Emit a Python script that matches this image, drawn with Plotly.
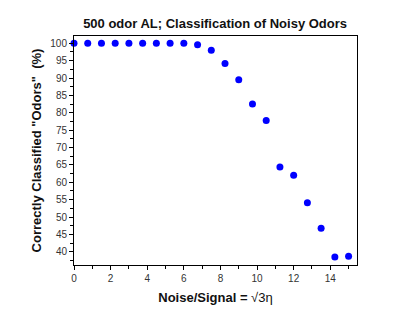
import plotly.graph_objects as go

noise = [0, 0.75, 1.5, 2.25, 3.0, 3.75, 4.5, 5.25, 6.0, 6.75, 7.5, 8.25, 9.0,
         9.75, 10.5, 11.25, 12.0, 12.75, 13.5, 14.25, 15.0]
correct = [100, 100, 100, 100, 100, 100, 100, 100, 100, 99.6, 98.0, 94.2, 89.5,
           82.5, 77.8, 64.4, 62.0, 54.1, 46.8, 38.5, 38.7]

fig = go.Figure(go.Scatter(
    x=noise, y=correct, mode="markers",
    marker=dict(color="#0000ff", size=7, line=dict(width=0)),
    cliponaxis=False,
))

font = "Liberation Sans, Arial, sans-serif"
fig.update_layout(
    template="none",
    width=415, height=318,
    margin=dict(l=66, r=66, t=28, b=61),
    paper_bgcolor="white", plot_bgcolor="white",
    showlegend=False,
    font=dict(family=font, color="#000"),
    title=dict(text="<b>500 odor AL; Classification of Noisy Odors</b>",
               x=0.499, xanchor="center", y=0.95, yanchor="middle",
               font=dict(size=13, color="#111")),
)
axcommon = dict(
    automargin=False,
    showgrid=False, zeroline=False, showline=True, linecolor="#000", linewidth=1,
    mirror=True, ticks="outside", ticklen=4, tickcolor="#000", tickwidth=1,
    tickfont=dict(size=10, color="#333"),
)
fig.update_xaxes(range=[0, 15.46], tick0=0, dtick=2,
                 minor=dict(ticks="outside", ticklen=3, dtick=1, tickcolor="#000"),
                 title=dict(text="<b>Noise/Signal = </b>√3η", standoff=9,
                            font=dict(size=13, color="#111")),
                 **axcommon)
fig.update_yaxes(range=[36.2, 102.1], tick0=0, dtick=5,
                 minor=dict(ticks="outside", ticklen=3, dtick=2.5, tickcolor="#000"),
                 title=dict(text='<b>Correctly Classified "Odors"  (%)</b>', standoff=5,
                            font=dict(size=13, color="#111")),
                 **axcommon)

fig.write_html("out.html")
